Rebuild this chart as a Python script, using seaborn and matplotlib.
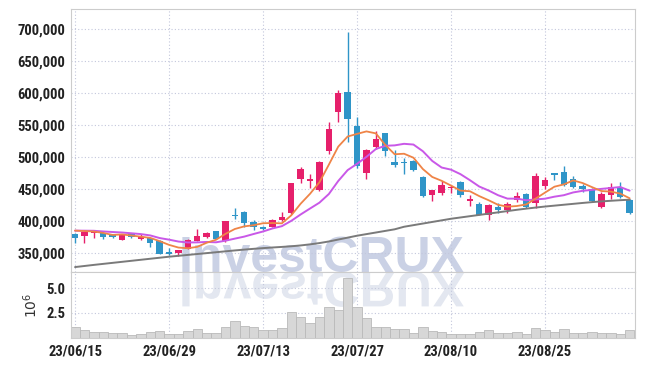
import numpy as np
import pandas as pd
import matplotlib
matplotlib.use("Agg")
import matplotlib.pyplot as plt
import seaborn as sns
from matplotlib import font_manager as fm
from matplotlib.textpath import TextPath
from matplotlib.patches import PathPatch
from matplotlib.font_manager import FontProperties
from matplotlib.transforms import Affine2D
from matplotlib.ticker import FuncFormatter

UNIT = 1000  # prices below are in thousands of won

opens = [380, 377, 382, 382, 379, 371, 380, 372, 373, 369,
         352, 350, 357, 369, 375, 384, 368, 409, 414.5, 398,
         391, 391, 401.5, 412, 466, 462, 448, 510, 571, 601.5,
         548, 474.5, 516, 537, 492, 491, 494, 468, 440, 443,
         451, 461, 431, 426.5, 409, 422, 417, 432.5, 442.5, 428.5,
         455, 475, 476.5, 465, 454.5, 450.5, 422.5, 441, 452.5, 433]
highs = [381, 384, 386, 383, 380, 379, 382, 379, 374, 370,
         358, 355, 372, 387, 383, 385, 400.5, 420, 416, 401.5,
         392, 403, 413.5, 460, 484, 473, 493, 554, 605, 696,
         563, 512, 541, 538, 511, 498, 496, 470, 449, 463,
         456, 462, 440, 430, 426, 428.5, 430, 445, 444, 475.5,
         468, 475.5, 486, 470, 458, 451, 446, 459, 461, 434]
lows = [365, 366, 373, 372, 373, 370, 373, 371, 359, 349,
        347, 345, 356, 368, 373, 372, 367, 403, 391, 386,
        386, 390, 400, 411, 459, 451, 447, 505, 555, 524,
        483, 465, 512, 501.5, 485, 473, 478, 437, 431, 440,
        443, 437, 423, 409, 401.5, 412, 412, 430, 421, 420,
        449.5, 464, 455, 452, 445, 430, 421, 435, 436, 411]
closes = [374, 383.5, 384.5, 374.5, 374.5, 378, 375, 375.5, 365, 349,
          349, 354, 370, 376, 381, 372.5, 400, 408, 396.5, 390,
          388, 401.5, 405.5, 459, 481, 465.5, 491.5, 543, 600, 560,
          486, 511, 527.5, 510, 487, 490, 480, 439, 448, 457,
          452.5, 441, 434, 410, 424.5, 417, 426.5, 439, 422.5, 470,
          464, 472.5, 457, 453.5, 449.5, 432, 442, 452.5, 438, 413]
prior_closes = [384, 386, 385, 383, 386, 387, 388, 386, 390]
ma_long = [328, 329.7, 331.4, 333, 334.6, 336.2, 337.8, 339.4, 341, 342.6,
           344.2, 345.6, 347, 348.4, 349.8, 351.2, 352.6, 354, 355.3, 356.5,
           357.6, 358.6, 359.5, 360.5, 361.8, 363.5, 365.5, 368, 371, 374,
           377, 379.5, 382, 384.5, 387, 391, 393.5, 396, 398.5, 401,
           403.5, 405.5, 407.5, 409.5, 411.5, 413.5, 415.5, 417.5, 419.3, 421,
           422.6, 424, 425.4, 426.8, 428.2, 429.5, 430.6, 431.6, 432.5, 433.3]
volume_m = [1.1, 0.8, 0.63, 0.63, 0.53, 0.53, 0.3, 0.43, 0.63, 0.73,
            0.43, 0.43, 0.7, 0.9, 0.53, 0.53, 1.1, 1.7, 1.2, 1.1,
            0.83, 0.83, 1.0, 2.6, 2.1, 1.5, 2.1, 3.1, 2.8, 6.0,
            3.1, 2.0, 1.1, 1.1, 0.9, 0.9, 0.53, 1.1, 0.73, 0.63,
            0.43, 0.43, 0.43, 0.63, 0.83, 0.53, 0.53, 0.63, 0.43, 1.0,
            0.83, 0.63, 0.9, 0.53, 0.53, 0.63, 0.53, 0.53, 0.43, 0.8]
tick_idx = [0, 10, 20, 30, 40, 50]
tick_labels = ["23/06/15", "23/06/29", "23/07/13", "23/07/27", "23/08/10", "23/08/25"]
price_ticks = [350, 400, 450, 500, 550, 600, 650, 700]
vol_ticks = [2.5, 5.0]

UP, DOWN = "#e6206b", "#2f95c8"
C_MA5, C_MA10, C_LONG = "#ef8447", "#c958e8", "#7a7a7a"
GRID = "#c3c7dc"

sns.set_theme(style="white")
avail = {f.name for f in fm.fontManager.ttflist}
tick_font = "Roboto Condensed"
for cand in ["Roboto Condensed", "DejaVu Sans Condensed", "Liberation Sans Narrow", "Roboto"]:
    if cand in avail:
        tick_font = cand
        break
plt.rcParams["font.family"] = [tick_font, "DejaVu Sans"]

n = len(closes)
idx = np.arange(n)
o = np.array(opens) * UNIT
h = np.array(highs) * UNIT
l = np.array(lows) * UNIT
c = np.array(closes) * UNIT
full = pd.Series(np.array(prior_closes + closes) * UNIT)
ma5 = full.rolling(5).mean().iloc[len(prior_closes):].to_numpy()
ma10 = full.rolling(10).mean().iloc[len(prior_closes):].to_numpy()
mal = np.array(ma_long) * UNIT
vol = np.array(volume_m)

W, H = 645, 366
fig = plt.figure(figsize=(W / 100, H / 100), dpi=100)
fig.patch.set_facecolor("white")


def rect(left, top, right, bottom):
    return [left / W, 1 - bottom / H, (right - left) / W, (bottom - top) / H]


ax = fig.add_axes(rect(71, 9, 635, 272))
axv = fig.add_axes(rect(71, 272, 635, 338), sharex=ax)

# watermark
ax.text(179 / W, 1 - 272 / H, "InvestCRUX", transform=fig.transFigure,
        ha="left", va="baseline", fontsize=36, fontweight="bold",
        family=["Liberation Sans", "DejaVu Sans"], color="#cad1e5", zorder=0.5)
tp = TextPath((0, 0), "InvestCRUX", size=50,
              prop=FontProperties(family=["Liberation Sans", "DejaVu Sans"], weight="bold"))
refl = PathPatch(tp, transform=Affine2D().scale(1, -1).translate(179, H - 272),
                 facecolor="#e3e7f0", edgecolor="none", zorder=0.5)
axv.add_artist(refl)
refl.set_clip_box(axv.bbox)

# candles
colors = [UP if cc >= oo else DOWN for oo, cc in zip(o, c)]
ax.vlines(idx, l, h, colors=colors, linewidth=1.0, zorder=3)
bottoms = np.minimum(o, c)
heights = np.maximum(np.abs(c - o), 1500)
ax.bar(idx, heights, bottom=bottoms, width=0.68, color=colors, linewidth=0, zorder=3)

# moving averages
sns.lineplot(x=idx, y=mal, ax=ax, color=C_LONG, linewidth=1.4, zorder=4)
sns.lineplot(x=idx, y=ma10, ax=ax, color=C_MA10, linewidth=1.4, zorder=5)
sns.lineplot(x=idx, y=ma5, ax=ax, color=C_MA5, linewidth=1.3, zorder=6)

# volume
sns.barplot(x=idx, y=vol, ax=axv, native_scale=True, width=1.0,
            color="#d7d7d7", edgecolor="#b9b9b9", linewidth=0.6, saturation=1, zorder=2)

ax.set_xlim(-0.43, 59.57)
ax.set_ylim(320300, 731250)
axv.set_ylim(0, 6.6)

ax.set_yticks([v * UNIT for v in price_ticks])
ax.yaxis.set_major_formatter(FuncFormatter(lambda v, p: f"{v:,.0f}"))
axv.set_yticks(vol_ticks)
axv.set_yticklabels([f"{v:.1f}" for v in vol_ticks])
axv.set_xticks(tick_idx)
axv.set_xticklabels(tick_labels)

for a in (ax, axv):
    a.set_xlabel("")
    a.set_ylabel("")
    a.grid(True, color=GRID, linestyle=(0, (1, 2)), linewidth=0.8)
    a.set_axisbelow(True)
    for s in a.spines.values():
        s.set_color("#cccccc")
        s.set_linewidth(0.8)
    a.tick_params(axis="both", length=0, labelsize=10.5, labelcolor="#222222", pad=4)
    for t in a.get_yticklabels() + a.get_xticklabels():
        t.set_fontweight("bold")

ax.tick_params(axis="x", labelbottom=False)
axv.tick_params(axis="x", pad=5)
axv.set_ylabel("$10^6$", fontsize=10, color="#333333", labelpad=5, family="DejaVu Sans")

fig.savefig("out.png", dpi=100, facecolor="white")
